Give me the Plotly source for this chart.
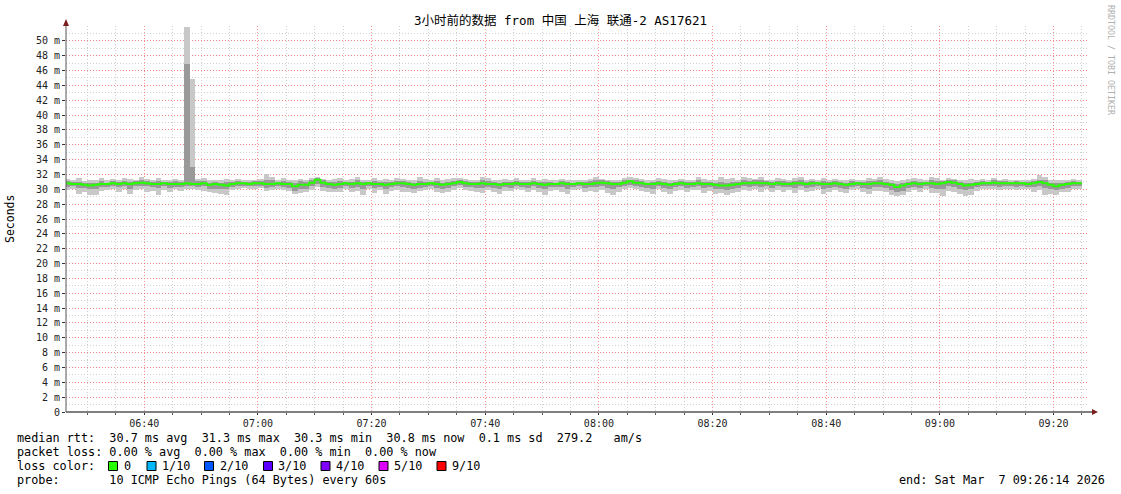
import numpy as np
import pandas as pd
import plotly.graph_objects as go

# ---------------- data (ms), one column per minute from 06:26 to 09:25 ----------------
start_time = "2026-03-07 06:26:00"
range_start = "2026-03-07 06:26:14"
range_end = "2026-03-07 09:26:14"

median = [
    30.8, 30.7, 30.7, 30.6, 30.5, 30.6, 30.7, 30.7, 30.8, 30.7,
    30.8, 30.7, 30.8, 30.9, 30.8, 30.7, 30.7, 30.8, 30.7, 30.7,
    30.7, 30.8, 30.7, 30.7, 30.8, 30.6, 30.7, 30.6, 30.5, 30.7,
    30.8, 30.8, 30.7, 30.8, 30.8, 30.7, 30.7, 30.8, 30.7, 30.7,
    30.4, 30.6, 30.6, 30.9, 31.3, 30.9, 30.7, 30.6, 30.7, 30.8,
    30.7, 30.8, 30.7, 30.8, 30.7, 30.7, 30.6, 30.7, 30.8, 30.8,
    30.7, 30.6, 30.7, 30.7, 30.8, 30.7, 30.6, 30.7, 30.8, 31.0,
    30.8, 30.7, 30.7, 30.8, 30.7, 30.7, 30.6, 30.7, 30.7, 30.8,
    30.7, 30.7, 30.8, 30.7, 30.6, 30.7, 30.7, 30.8, 30.7, 30.7,
    30.8, 30.7, 30.7, 30.8, 30.9, 30.8, 30.7, 30.7, 30.9, 31.1,
    30.9, 30.8, 30.7, 30.7, 30.8, 30.7, 30.6, 30.7, 30.8, 30.7,
    30.7, 30.8, 30.7, 30.7, 30.6, 30.5, 30.5, 30.6, 30.7, 30.8,
    30.8, 30.9, 30.8, 30.8, 30.7, 30.8, 30.7, 30.7, 30.8, 30.8,
    30.7, 30.8, 30.8, 30.7, 30.7, 30.8, 30.7, 30.6, 30.7, 30.8,
    30.7, 30.7, 30.8, 30.8, 30.7, 30.6, 30.3, 30.5, 30.7, 30.8,
    30.7, 30.8, 30.8, 30.7, 30.8, 31.0, 30.9, 30.7, 30.5, 30.6,
    30.7, 30.8, 30.8, 30.9, 30.8, 30.8, 30.8, 30.8, 30.8, 30.7,
    30.8, 31.0, 30.8, 30.6, 30.4, 30.6, 30.7, 30.8, 30.8,
]

outer_hi = [
    31.4, 31.2, 31.5, 31.1, 31.2, 31.3, 31.5, 31.2, 31.4, 31.2,
    31.5, 31.4, 31.3, 31.6, 31.4, 31.2, 31.5, 31.3, 31.2, 31.4,
    31.3, 51.8, 44.8, 31.4, 31.5, 31.2, 31.3, 31.2, 31.4, 31.3,
    31.4, 31.2, 31.2, 31.3, 31.4, 32.0, 31.7, 31.2, 31.5, 31.3,
    31.2, 31.4, 31.3, 31.5, 31.7, 31.4, 31.2, 31.4, 31.5, 31.2,
    31.4, 31.6, 31.3, 31.2, 31.5, 31.3, 31.4, 31.2, 31.5, 31.4,
    31.3, 31.2, 31.6, 31.4, 31.2, 31.5, 31.3, 31.4, 31.5, 31.5,
    31.4, 31.3, 31.2, 31.6, 31.5, 31.3, 31.2, 31.4, 31.3, 31.5,
    31.2, 31.3, 31.5, 31.2, 31.4, 31.3, 31.2, 31.4, 31.3, 31.2,
    31.3, 31.2, 31.4, 31.6, 31.4, 31.3, 31.2, 31.3, 31.5, 31.6,
    31.5, 31.4, 31.2, 31.3, 31.5, 31.4, 31.2, 31.3, 31.4, 31.2,
    31.3, 31.6, 31.4, 31.2, 31.3, 31.7, 31.4, 31.5, 31.3, 31.6,
    31.5, 31.4, 31.6, 31.3, 31.2, 31.5, 31.4, 31.2, 31.5, 31.6,
    31.3, 31.4, 31.2, 31.5, 31.3, 31.4, 31.2, 31.3, 31.4, 31.2,
    31.3, 31.5, 31.4, 31.7, 31.4, 31.2, 31.1, 31.3, 31.4, 31.5,
    31.4, 31.2, 31.6, 31.5, 31.3, 31.5, 31.4, 31.3, 31.2, 31.4,
    31.3, 31.4, 31.2, 31.5, 31.3, 31.4, 31.2, 31.3, 31.2, 31.3,
    31.4, 31.9, 31.6, 31.3, 31.2, 31.3, 31.2, 31.4, 31.3,
]

mid_hi = [
    31.1, 31.0, 31.0, 30.8, 30.8, 30.9, 31.1, 30.9, 31.1, 31.0,
    31.1, 31.0, 31.1, 31.2, 31.1, 31.0, 31.1, 31.0, 31.0, 31.1,
    31.0, 46.9, 33.0, 31.1, 31.1, 30.9, 31.0, 30.9, 31.0, 31.0,
    31.1, 31.0, 31.0, 31.1, 31.1, 31.3, 31.2, 31.0, 31.1, 31.0,
    30.9, 31.1, 31.0, 31.2, 31.5, 31.2, 31.0, 31.0, 31.1, 31.0,
    31.0, 31.2, 31.0, 31.0, 31.1, 31.0, 31.0, 31.0, 31.1, 31.1,
    31.0, 30.9, 31.1, 31.0, 31.0, 31.1, 30.9, 31.0, 31.1, 31.3,
    31.1, 31.0, 31.0, 31.2, 31.1, 31.0, 30.9, 31.0, 31.0, 31.1,
    31.0, 31.0, 31.1, 31.0, 31.0, 31.0, 30.9, 31.1, 31.0, 30.9,
    31.0, 31.0, 31.1, 31.2, 31.2, 31.1, 31.0, 31.0, 31.2, 31.3,
    31.2, 31.1, 30.9, 31.0, 31.1, 31.0, 30.9, 31.0, 31.1, 31.0,
    31.0, 31.2, 31.0, 31.0, 30.9, 31.0, 30.9, 31.0, 31.0, 31.2,
    31.1, 31.2, 31.2, 31.1, 31.0, 31.1, 31.1, 31.0, 31.1, 31.2,
    31.0, 31.1, 31.0, 31.1, 31.0, 31.1, 31.0, 30.9, 31.1, 31.0,
    31.0, 31.1, 31.1, 31.2, 31.0, 30.9, 30.7, 30.9, 31.0, 31.1,
    31.0, 31.0, 31.2, 31.1, 31.1, 31.3, 31.2, 31.0, 30.8, 30.9,
    31.0, 31.1, 31.0, 31.2, 31.1, 31.1, 31.0, 31.1, 31.0, 31.0,
    31.1, 31.3, 31.2, 30.9, 30.8, 30.9, 31.0, 31.1, 31.0,
]

mid_lo = [
    30.3, 30.4, 30.2, 30.2, 30.0, 30.1, 30.3, 30.3, 30.4, 30.3,
    30.4, 30.1, 30.4, 30.4, 30.4, 30.3, 30.2, 30.4, 30.2, 30.3,
    30.3, 30.4, 30.4, 30.3, 30.4, 30.1, 30.1, 30.0, 30.0, 30.3,
    30.4, 30.5, 30.4, 30.4, 30.4, 30.2, 30.3, 30.4, 30.3, 30.2,
    29.8, 30.0, 30.1, 30.4, 30.7, 30.3, 30.2, 30.1, 30.2, 30.4,
    30.2, 30.3, 30.1, 30.4, 30.2, 30.3, 30.0, 30.3, 30.4, 30.3,
    30.2, 30.1, 30.2, 30.3, 30.4, 30.2, 30.1, 30.2, 30.4, 30.6,
    30.3, 30.3, 30.2, 30.2, 30.3, 30.2, 30.0, 30.3, 30.2, 30.4,
    30.3, 30.2, 30.4, 30.2, 30.0, 30.3, 30.3, 30.3, 30.1, 30.3,
    30.4, 30.2, 30.3, 30.3, 30.4, 30.2, 30.1, 30.3, 30.4, 30.6,
    30.4, 30.3, 30.2, 30.1, 30.4, 30.2, 30.0, 30.3, 30.4, 30.2,
    30.3, 30.4, 30.2, 30.3, 30.1, 30.0, 29.9, 30.1, 30.2, 30.4,
    30.3, 30.4, 30.3, 30.4, 30.2, 30.4, 30.3, 30.3, 30.2, 30.4,
    30.2, 30.3, 30.4, 30.1, 30.2, 30.3, 30.2, 30.1, 30.3, 30.4,
    30.2, 30.1, 30.3, 30.3, 30.2, 29.9, 29.7, 29.8, 30.2, 30.3,
    30.2, 30.4, 30.2, 30.1, 30.0, 30.4, 30.3, 30.1, 29.9, 30.0,
    30.3, 30.4, 30.4, 30.4, 30.3, 30.4, 30.4, 30.3, 30.4, 30.3,
    30.3, 30.5, 30.2, 30.0, 29.9, 30.1, 30.2, 30.4, 30.4,
]

outer_lo = [
    29.9, 30.0, 29.4, 29.6, 29.3, 29.3, 29.8, 29.9, 30.0, 29.7,
    30.0, 29.4, 29.9, 30.1, 29.7, 29.8, 29.3, 29.9, 29.7, 30.0,
    29.8, 30.1, 30.0, 29.9, 29.8, 29.6, 29.5, 29.4, 29.3, 29.9,
    30.1, 30.2, 30.1, 30.0, 30.2, 29.8, 29.9, 30.1, 29.9, 29.8,
    29.4, 29.5, 29.7, 29.9, 30.3, 29.8, 29.7, 29.6, 29.7, 30.0,
    29.6, 29.8, 29.3, 30.0, 29.5, 29.9, 29.4, 29.8, 29.9, 29.6,
    29.7, 29.5, 29.8, 29.9, 30.0, 29.6, 29.5, 29.7, 29.9, 30.2,
    29.9, 29.8, 29.7, 29.5, 29.9, 29.6, 29.4, 29.8, 29.8, 30.0,
    29.9, 29.6, 29.9, 29.6, 29.3, 29.8, 29.9, 29.7, 29.4, 29.9,
    30.1, 29.7, 29.8, 29.6, 29.9, 29.5, 29.3, 29.7, 30.0, 30.2,
    30.0, 29.8, 29.6, 29.4, 30.0, 29.7, 29.4, 29.8, 29.9, 29.7,
    29.9, 29.9, 29.5, 29.8, 29.4, 29.5, 29.3, 29.5, 29.7, 29.9,
    29.8, 30.0, 29.7, 30.0, 29.6, 29.9, 29.7, 29.9, 29.5, 29.9,
    29.6, 29.8, 30.0, 29.4, 29.7, 29.9, 29.6, 29.5, 29.9, 30.0,
    29.7, 29.4, 29.8, 29.8, 29.7, 29.3, 29.1, 29.3, 29.6, 29.9,
    29.6, 30.0, 29.5, 29.5, 29.1, 29.8, 29.7, 29.4, 29.1, 29.3,
    29.8, 30.0, 30.1, 30.0, 29.9, 30.1, 30.0, 29.9, 30.1, 30.0,
    29.7, 29.9, 29.3, 29.4, 29.3, 29.6, 29.7, 30.0, 30.1,
]

ytick_vals = list(range(0, 51, 2))
ytick_text = ["0"] + [f"{v} m" for v in range(2, 51, 2)]

stats_line = "median rtt:  30.7 ms avg  31.3 ms max  30.3 ms min  30.8 ms now  0.1 ms sd  279.2   am/s"
loss_line = "packet loss: 0.00 % avg  0.00 % max  0.00 % min  0.00 % now"
probe_line = "probe:       10 ICMP Echo Pings (64 Bytes) every 60s"
end_line = "end: Sat Mar  7 09:26:14 2026"
legend_labels = ["0", "1/10", "2/10", "3/10", "4/10", "5/10", "9/10"]
legend_colors = ["#26ff00", "#00b8ff", "#0059ff", "#5e00ff", "#7e00ff", "#dd00ff", "#ff0000"]
title_text = "3小时前的数据 from 中国 上海 联通-2 AS17621"

# ---------------- geometry helpers (pixel -> paper) ----------------
W, H = 1121, 494
L, R, T, B = 66, 1089, 26, 412
PW, PH = R - L, B - T


def px(x):
    return (x - L) / PW


def py(y):
    return (B - y) / PH


times = pd.date_range(start_time, periods=len(median), freq="min")
centers = times + pd.Timedelta(seconds=30)
med = np.array(median)
olo, ohi = np.array(outer_lo), np.array(outer_hi)
mlo, mhi = np.array(mid_lo), np.array(mid_hi)

fig = go.Figure()
fig.add_trace(go.Bar(x=centers, base=olo, y=ohi - olo, width=60000,
                     marker=dict(color="#c8c8c8", line=dict(width=0)),
                     hoverinfo="skip", showlegend=False))
fig.add_trace(go.Bar(x=centers, base=mlo, y=mhi - mlo, width=60000,
                     marker=dict(color="#999999", line=dict(width=0)),
                     hoverinfo="skip", showlegend=False))
line_x = list(times) + [times[-1] + pd.Timedelta(minutes=1)]
line_y = list(med) + [med[-1]]
fig.add_trace(go.Scatter(x=line_x, y=line_y, mode="lines", line_shape="hv",
                         line=dict(color="#26ff00", width=2),
                         hoverinfo="skip", showlegend=False))

mono = "DejaVu Sans Mono"
fig.update_layout(
    width=W, height=H,
    margin=dict(l=L, r=W - R, t=T, b=H - B, pad=0),
    paper_bgcolor="white", plot_bgcolor="white",
    barmode="overlay", bargap=0,
    showlegend=False,
    font=dict(family=mono, size=10, color="#222"),
    xaxis=dict(
        type="date", range=[range_start, range_end],
        tick0="2026-03-07 06:40", dtick=1200000, tickformat="%H:%M",
        showgrid=True, gridcolor="rgba(255,110,110,0.75)", griddash="1px,2px", gridwidth=1,
        ticks="outside", ticklen=2, tickcolor="#333",
        showline=False, zeroline=False,
        tickfont=dict(family=mono, size=10, color="#222"),
        minor=dict(dtick=300000, tick0="2026-03-07 06:40", showgrid=True,
                   gridcolor="#d0d0d0", griddash="1px,2px", gridwidth=1,
                   ticks="outside", ticklen=2, tickcolor="#555"),
    ),
    yaxis=dict(
        range=[0, 52], tickvals=ytick_vals, ticktext=ytick_text,
        showgrid=True, gridcolor="rgba(255,110,110,0.75)", griddash="1px,2px", gridwidth=1,
        ticks="outside", ticklen=3, tickcolor="#333",
        showline=False, zeroline=False,
        tickfont=dict(family=mono, size=10, color="#222"),
        minor=dict(dtick=1, tick0=0, showgrid=True, gridcolor="#d0d0d0",
                   griddash="1px,2px", gridwidth=1),
    ),
)

# axis lines and arrows
shapes = [
    dict(type="line", xref="paper", yref="paper", x0=px(L), x1=px(1092), y0=0, y1=0,
         line=dict(color="#000000", width=1.2)),
    dict(type="line", xref="paper", yref="paper", x0=0, x1=0, y0=0, y1=py(24),
         line=dict(color="#555555", width=1)),
    dict(type="path", xref="paper", yref="paper",
         path=f"M {px(66)} {py(19)} L {px(63)} {py(26)} L {px(69)} {py(26)} Z",
         fillcolor="#7a1e1e", line=dict(width=0)),
    dict(type="path", xref="paper", yref="paper",
         path=f"M {px(1098)} {py(412)} L {px(1092)} {py(409)} L {px(1092)} {py(415)} Z",
         fillcolor="#7a1e1e", line=dict(width=0)),
]

# legend colour boxes
box_x = [108.5, 147, 204.5, 263.5, 321, 379, 437]
text_x = [121.5, 159.5, 217.5, 275.5, 333.5, 391.5, 449.5]
for bx, c in zip(box_x, legend_colors):
    shapes.append(dict(type="rect", xref="paper", yref="paper",
                       x0=px(bx), x1=px(bx + 9), y0=py(470.5), y1=py(461.5),
                       fillcolor=c, line=dict(color="#000000", width=1)))
fig.update_layout(shapes=shapes)


def nb(s):
    return s.replace(" ", "\u00a0")


ann = []
ann.append(dict(text=title_text, x=px(560.5), y=py(21), xref="paper", yref="paper",
                xanchor="center", yanchor="middle", showarrow=False,
                font=dict(family="DejaVu Sans Mono, Noto Sans CJK SC", size=12.5, color="#000")))
ann.append(dict(text="Seconds", x=px(10), y=py(219), xref="paper", yref="paper",
                xanchor="center", yanchor="middle", showarrow=False, textangle=-90,
                font=dict(family=mono, size=11.5, color="#000")))
ann.append(dict(text=nb("RRDTOOL / TOBI OETIKER"), x=px(1111), y=py(60), xref="paper", yref="paper",
                xanchor="center", yanchor="middle", showarrow=False, textangle=90,
                font=dict(family=mono, size=8.3, color="#b0b0b0")))
fs = 11.8
for txt, yy in [(stats_line, 438), (loss_line, 452), (probe_line, 480)]:
    ann.append(dict(text=nb(txt), x=px(14.5), y=py(yy), xref="paper", yref="paper",
                    xanchor="left", yanchor="middle", showarrow=False,
                    font=dict(family=mono, size=fs, color="#000")))
ann.append(dict(text=nb("loss color:"), x=px(14.5), y=py(466), xref="paper", yref="paper",
                xanchor="left", yanchor="middle", showarrow=False,
                font=dict(family=mono, size=fs, color="#000")))
for tx, lab in zip(text_x, legend_labels):
    ann.append(dict(text=lab, x=px(tx), y=py(466), xref="paper", yref="paper",
                    xanchor="left", yanchor="middle", showarrow=False,
                    font=dict(family=mono, size=fs, color="#000")))
ann.append(dict(text=nb(end_line), x=px(1106.5), y=py(480), xref="paper", yref="paper",
                xanchor="right", yanchor="middle", showarrow=False,
                font=dict(family=mono, size=fs, color="#000")))
fig.update_layout(annotations=ann)

fig.write_html("out.html", config={"displayModeBar": False},
               post_script="document.body.style.margin='0';document.body.style.padding='0';")
